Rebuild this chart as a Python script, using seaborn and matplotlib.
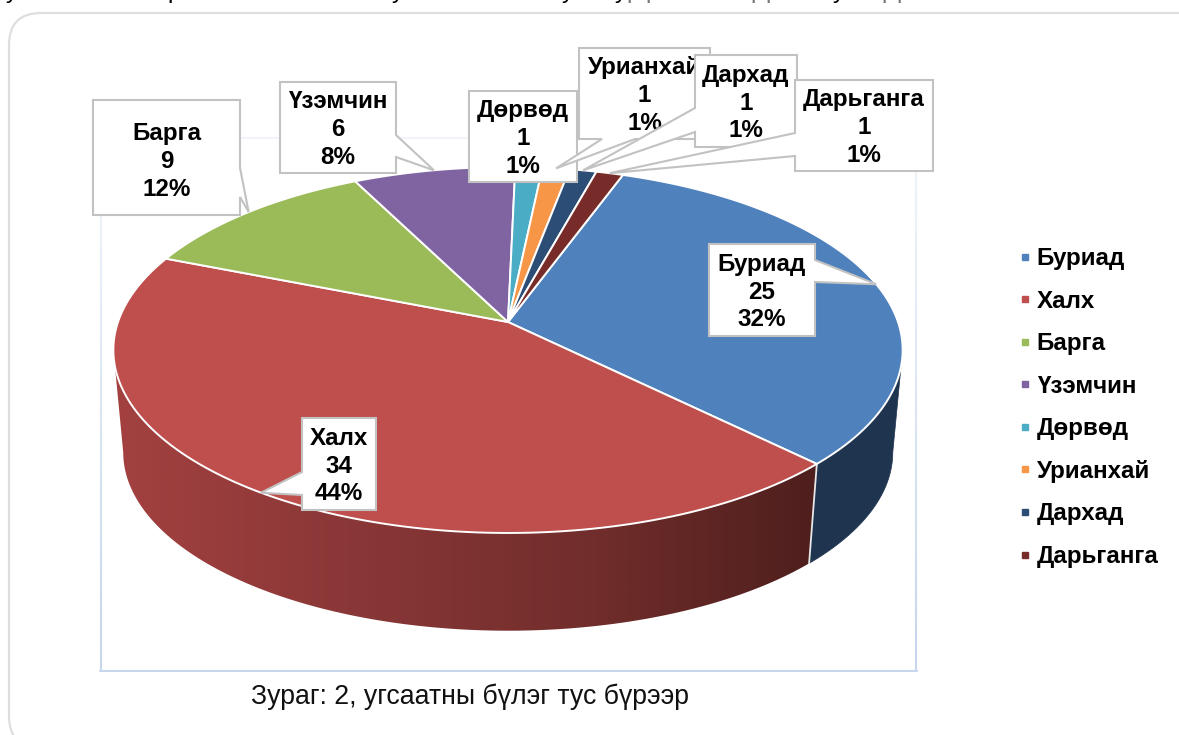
import matplotlib.pyplot as plt
import numpy as np
import seaborn as sns
from matplotlib.lines import Line2D
from matplotlib.patches import FancyBboxPatch, Polygon

sns.set_theme(style="white")
plt.rcParams["font.family"] = ["Liberation Sans", "DejaVu Sans"]

groups = ["Буриад", "Халх", "Барга", "Үзэмчин", "Дөрвөд", "Урианхай", "Дархад", "Дарьганга"]
counts = [25, 34, 9, 6, 1, 1, 1, 1]
shares = ["32%", "44%", "12%", "8%", "1%", "1%", "1%", "1%"]
colors = ["#4F81BD", "#BE4F4C", "#9BBB59", "#8064A2", "#4BACC6", "#F79646", "#2C4D75", "#772C2A"]

# label boxes in picture pixels: left, right, top, bottom, and which side/heights the tail leaves from
boxes = {
    "Буриад": (709, 815, 244, 336, "right", 260, 282),
    "Халх": (302, 376, 418, 510, "left", 472, 495),
    "Барга": (93, 240, 100, 215, "right", 168, 197),
    "Үзэмчин": (280, 396, 82, 173, "right", 135, 157),
    "Дөрвөд": (469, 577, 91, 182, None, 0, 0),
    "Урианхай": (579, 710, 48, 139, "bottom", 602, 635),
    "Дархад": (695, 797, 55, 147, "left", 108, 132),
    "Дарьганга": (795, 933, 80, 171, "left", 133, 156),
}

# pie projection: a circle seen in perspective
CX, CY = 508, 322
A, B, K = 390, 178.7, 0.153
DEPTH_Y, DEPTH_SCALE = 103, 0.975
START = 19.7


def rim(phi, bottom=False):
    """phi in degrees clockwise from the top of the pie"""
    p = np.radians(phi)
    u, v = np.sin(p), -np.cos(p)
    d = 1 - K * v
    s = DEPTH_SCALE if bottom else 1
    return CX + s * A * u / d, CY + (DEPTH_Y if bottom else 0) + s * B * v / d


edges = START + np.cumsum([0] + counts) / sum(counts) * 360
mids = (edges[:-1] + edges[1:]) / 2

fig, ax = plt.subplots(figsize=(11.79, 7.35), dpi=100)
ax.set_position([0, 0, 1, 1])
ax.axis("off")

# outer rounded frame, runs off the right and bottom of the picture
ax.add_patch(FancyBboxPatch((9 + 32, 13 + 32), 1188 - 64 + 16, 735 - 64, boxstyle="round,pad=32,rounding_size=32",
                            fc="white", ec="#DEDEDE", lw=1.6, zorder=0))

# plot area border, fades towards the top
for y0, y1, c in zip(np.linspace(138, 670, 30)[:-1], np.linspace(138, 670, 30)[1:],
                     sns.blend_palette(["#F1F5FB", "#C6D6EC"], 29)):
    ax.plot([101, 101], [y0, y1 + 1], color=c, lw=1.5, zorder=1)
    ax.plot([916, 916], [y0, y1 + 1], color=c, lw=1.5, zorder=1)
ax.plot([101, 916], [138, 138], color="#F1F5FB", lw=1.5, zorder=1)
ax.plot([100, 917], [671, 671], color="#C6D6EC", lw=1.5, zorder=1)

# front wall: dark blue part, then the red part with its left to right shading
wall_start, wall_end = np.degrees(np.arccos(-K)), 360 - np.degrees(np.arccos(-K))
split = edges[1]


def wall_outline(p0, p1):
    phis = np.linspace(p0, p1, 200)
    xt, yt = rim(phis)
    xb, yb = rim(phis, True)
    return np.r_[xt, xb[::-1]], np.r_[yt, yb[::-1]]


wx, wy = wall_outline(wall_start, split)
ax.fill(wx, wy, color="#1F344F", lw=0.5, zorder=2)

red_wall = sns.blend_palette(["#4E1F1D", "#722E2C", "#8A3737", "#A34140"], as_cmap=True)
wx, wy = wall_outline(split, wall_end)
shade = ax.imshow(np.linspace(0, 1, 512)[None, :], extent=(wx.max(), wx.min(), wy.max(), wy.min()),
                  cmap=red_wall, aspect="auto", zorder=2)
shade.set_clip_path(Polygon(np.c_[wx, wy], closed=True, transform=ax.transData))

xt, yt = rim(split)
xb, yb = rim(split, True)
ax.plot([xt, xb], [yt, yb], color="#E8E8E8", lw=1.3, zorder=3)

ax.set_xlim(0, 1179)
ax.set_ylim(735, 0)

# top surface
for e0, e1, c in zip(edges[:-1], edges[1:], colors):
    xs, ys = rim(np.linspace(e0, e1, 120))
    ax.fill(np.r_[CX, xs], np.r_[CY, ys], fc=c, ec="white", lw=1.4, joinstyle="round", zorder=4)

# callout boxes, tail tips sit on the rim at the middle of each slice
for i, (name, count, share, mid) in enumerate(zip(groups, counts, shares, mids)):
    x0, x1, y0, y1, side, t0, t1 = boxes[name]
    tx, ty = rim(mid)
    if side == "left":
        px = [x0, x1, x1, x0, x0, tx, x0]
        py = [y0, y0, y1, y1, t1, ty, t0]
    elif side == "right":
        px = [x0, x1, x1, tx, x1, x1, x0]
        py = [y0, y0, t0, ty, t1, y1, y1]
    elif side == "bottom":
        px = [x0, x1, x1, t1, tx, t0, x0]
        py = [y0, y0, y1, y1, ty, y1, y1]
    else:
        px = [x0, x1, x1, x0]
        py = [y0, y0, y1, y1]
    ax.fill(px, py, fc="white", ec="#C2C2C2", lw=1.5, joinstyle="miter", zorder=10 + i * 2)
    dy = 4 if name == "Барга" else 2
    ax.text((x0 + x1) / 2, (y0 + y1) / 2 + dy, f"{name}\n{count}\n{share}", ha="center", va="center",
            fontsize=17.4, fontweight="bold", color="black", linespacing=1.27, zorder=11 + i * 2)

handles = [Line2D([], [], ls="none", marker="s", ms=4.8, mfc=c, mec=c) for c in colors]
ax.legend(handles, groups, loc="upper left", bbox_to_anchor=(1018 / 1179, 1 - 247 / 735), frameon=False,
          prop={"size": 17.4, "weight": "bold"}, labelcolor="black", labelspacing=0.81,
          handlelength=0.6, handletextpad=0.18, borderpad=0, borderaxespad=0)

ax.text(251, 697, "Зураг: 2, угсаатны бүлэг тус бүрээр", ha="left", va="center", fontsize=19.2, color="#111111")

# the line of body text above the chart, cut off by the top of the picture
for x, letter, c in [(6, "у", "black"), (167, "р", "black"), (392, "у", "black"), (562, "у", "black"),
                     (615, "у", "black"), (626, "р", "#777777"), (645, "р", "#777777"), (750, "р", "#777777"),
                     (765, "р", "#777777"), (833, "у", "black"), (881, "р", "#777777"), (896, "р", "#777777")]:
    ax.text(x, -2, letter, ha="left", va="baseline", fontsize=17.4, color=c, clip_on=False)

fig.savefig("out.png", dpi=100)
